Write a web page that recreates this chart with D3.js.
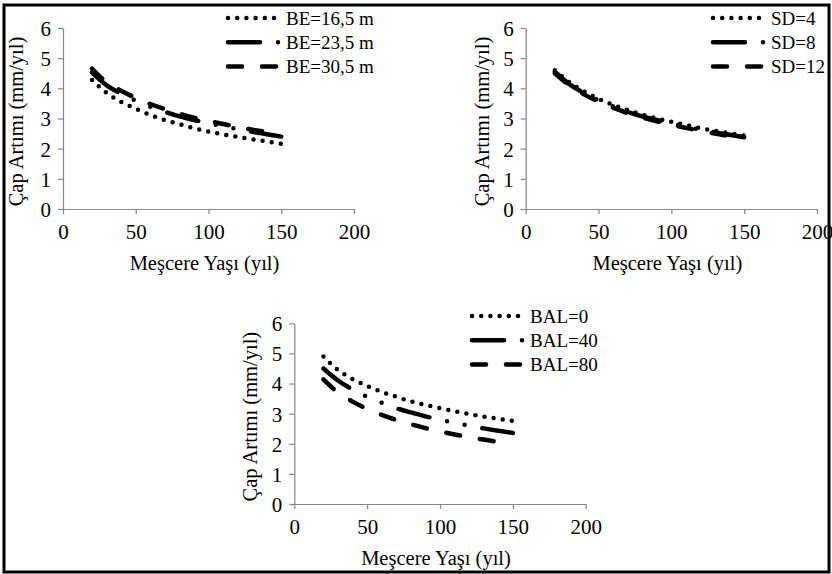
<!DOCTYPE html>
<html>
<head>
<meta charset="utf-8">
<script src="https://cdn.jsdelivr.net/npm/d3@7"></script>
<style>
  body { margin: 0; background: #fff; }
  svg text { font-family: "Liberation Serif", "Times New Roman", serif; fill: #000; }
</style>
</head>
<body>
<svg id="chart" width="832" height="574"></svg>
<script>
// ages (x) shared by all curves
var ages = [20, 30, 40, 50, 60, 70, 80, 90, 100, 110, 120, 130, 140, 150];

// panel 1 : BE
var beLabels = ["BE=16,5 m", "BE=23,5 m", "BE=30,5 m"];
var be165 = [4.28, 3.85, 3.55, 3.32, 3.12, 2.95, 2.81, 2.68, 2.57, 2.47, 2.39, 2.31, 2.24, 2.16];
var be235 = [4.52, 4.10, 3.82, 3.59, 3.39, 3.22, 3.07, 2.95, 2.84, 2.74, 2.65, 2.56, 2.48, 2.40];
var be305 = [4.65, 4.20, 3.92, 3.68, 3.48, 3.31, 3.16, 3.03, 2.92, 2.82, 2.72, 2.63, 2.55, 2.48];

// panel 2 : SD
var sdLabels = ["SD=4", "SD=8", "SD=12"];
var sd4  = [4.60, 4.20, 3.90, 3.65, 3.45, 3.28, 3.13, 3.00, 2.89, 2.78, 2.68, 2.59, 2.51, 2.43];
var sd8  = [4.55, 4.14, 3.84, 3.60, 3.40, 3.22, 3.07, 2.95, 2.83, 2.73, 2.63, 2.54, 2.46, 2.38];
var sd12 = [4.50, 4.10, 3.80, 3.56, 3.36, 3.18, 3.03, 2.91, 2.79, 2.69, 2.59, 2.50, 2.42, 2.34];

// panel 3 : BAL
var balLabels = ["BAL=0", "BAL=40", "BAL=80"];
var bal0  = [4.90, 4.45, 4.15, 3.92, 3.72, 3.56, 3.41, 3.29, 3.18, 3.08, 2.99, 2.90, 2.83, 2.76];
var bal40 = [4.50, 4.10, 3.80, 3.56, 3.36, 3.18, 3.04, 2.91, 2.80, 2.70, 2.60, 2.51, 2.43, 2.36];
var bal80 = [4.14, 3.70, 3.40, 3.16, 2.96, 2.79, 2.65, 2.52, 2.41, 2.31, 2.22, 2.14, 2.06, 1.98];

var xTicks = [0, 50, 100, 150, 200];
var yTicks = [0, 1, 2, 3, 4, 5, 6];

var xTitle = "Meşcere Yaşı (yıl)";
var yTitle = "Çap Artımı (mm/yıl)";

// line styles: dotted, long dash dot dot, dashed
var dashes = ["0 9.2", "32 18 0 18 0 18", "14 20"];

var svg = d3.select("#chart");

// outer frame
svg.append("rect")
	.attr("x", 4).attr("y", 5)
	.attr("width", 825).attr("height", 567)
	.attr("fill", "none")
	.attr("stroke", "#000")
	.attr("stroke-width", 3);

var panels = [
	{ left: 63, right: 354, top: 28, bottom: 209, titleX: 16, legX: 228, legY: 18,
	  labels: beLabels, series: [be165, be235, be305] },
	{ left: 525.7, right: 817, top: 28, bottom: 209, titleX: 482, legX: 713, legY: 18,
	  labels: sdLabels, series: [sd4, sd8, sd12] },
	{ left: 294.3, right: 585.7, top: 323.3, bottom: 504, titleX: 250, legX: 472, legY: 316,
	  labels: balLabels, series: [bal0, bal40, bal80] }
];

panels.forEach(drawPanel);

function drawPanel(p) {
	var x = d3.scaleLinear().domain([0, 200]).range([p.left, p.right]);
	var y = d3.scaleLinear().domain([0, 6]).range([p.bottom, p.top]);
	var g = svg.append("g");

	var xAxis = g.append("g")
		.attr("transform", "translate(0," + p.bottom + ")")
		.call(d3.axisBottom(x).tickValues(xTicks).tickFormat(d3.format("d"))
			.tickSize(5).tickSizeOuter(0).tickPadding(10));
	var yAxis = g.append("g")
		.attr("transform", "translate(" + p.left + ",0)")
		.call(d3.axisLeft(y).tickValues(yTicks).tickFormat(d3.format("d"))
			.tickSize(5).tickSizeOuter(0).tickPadding(7));

	[xAxis, yAxis].forEach(function (a) {
		a.attr("font-family", null).attr("font-size", null);
		a.select(".domain").attr("stroke", "#868686").attr("stroke-width", 1.2);
		a.selectAll(".tick line").attr("stroke", "#868686").attr("stroke-width", 1.2);
		a.selectAll(".tick text")
			.style("font-size", "21px")
			.attr("fill", "#000");
	});
	yAxis.selectAll(".tick text").attr("dy", "0.35em");

	g.append("text")
		.attr("x", (p.left + p.right) / 2 - 4)
		.attr("y", p.bottom + 54)
		.attr("dy", "0.35em")
		.attr("text-anchor", "middle")
		.style("font-size", "20.5px")
		.text(xTitle);

	g.append("text")
		.attr("transform", "translate(" + p.titleX + "," + ((p.top + p.bottom) / 2 + 3) + ") rotate(-90)")
		.attr("dy", "0.35em")
		.attr("text-anchor", "middle")
		.style("font-size", "20.5px")
		.text(yTitle);

	var line = d3.line()
		.x(function (d) { return x(d[0]); })
		.y(function (d) { return y(d[1]); })
		.curve(d3.curveMonotoneX);

	p.series.forEach(function (vals, i) {
		var pts = ages.map(function (a, k) { return [a, vals[k]]; });
		g.append("path")
			.datum(pts)
			.attr("d", line)
			.attr("fill", "none")
			.attr("stroke", "#000")
			.attr("stroke-width", 4.5)
			.attr("stroke-linecap", "round")
			.attr("stroke-dasharray", dashes[i]);
	});

	// legend
	p.labels.forEach(function (lab, i) {
		var ly = p.legY + i * 24.2;
		g.append("line")
			.attr("x1", p.legX).attr("x2", p.legX + 52)
			.attr("y1", ly).attr("y2", ly)
			.attr("stroke", "#000")
			.attr("stroke-width", 4.5)
			.attr("stroke-linecap", "round")
			.attr("stroke-dasharray", dashes[i]);
		g.append("text")
			.attr("x", p.legX + 58)
			.attr("y", ly)
			.attr("dy", "0.35em")
			.style("font-size", "19px")
			.text(lab);
	});
}
</script>
</body>
</html>
